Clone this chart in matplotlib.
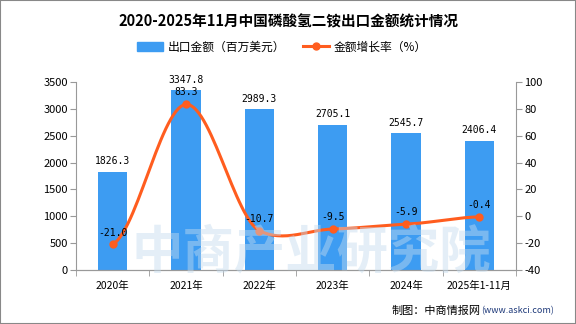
import numpy as np
import matplotlib
matplotlib.use('Agg')
import matplotlib.pyplot as plt
from matplotlib.patches import Rectangle
from matplotlib.lines import Line2D

plt.rcParams['font.family'] = ['Noto Sans CJK SC', 'DejaVu Sans']
plt.rcParams['axes.unicode_minus'] = False

years = ['2020年', '2021年', '2022年', '2023年', '2024年', '2025年1-11月']
amount = [1826.3, 3347.8, 2989.3, 2705.1, 2545.7, 2406.4]
growth = [-21.0, 83.3, -10.7, -9.5, -5.9, -0.4]

bar_color = '#3d9cf2'
line_color = '#ff5d1f'
axis_color = '#999999'

fig = plt.figure(figsize=(5.76, 3.24), dpi=100)
ax = fig.add_axes([0.132, 0.1667, 0.764, 0.5803])
ax2 = ax.twinx()

x = np.arange(len(years))
ax.bar(x, amount, width=0.4, color=bar_color, zorder=2)
ax.set_ylim(0, 3500)
ax.set_yticks(np.arange(0, 3501, 500))
ax.set_xlim(-0.5, len(years) - 0.5)
ax.set_xticks(x)
ax.set_xticklabels(years, fontsize=7.5)
ax.set_xticks(np.arange(-0.5, len(years)), minor=True)
ax.tick_params(axis='x', which='major', length=0, pad=8)
ax.tick_params(axis='x', which='minor', length=4, color=axis_color)
ax.tick_params(axis='y', labelsize=8, length=4, color=axis_color, pad=2)

for i, v in enumerate(amount):
    ax.annotate(f'{v:.1f}', (i, v), xytext=(0, 4), textcoords='offset points',
                ha='center', va='bottom', fontsize=7, family='DejaVu Sans Mono')

# smoothed line through the points (softened Catmull-Rom)
g = np.array(growth)
pts = np.concatenate([[g[0]], g, [g[-1]]])
xs, ys = [], []
t = np.linspace(0, 1, 30)
k = 0.6
for i in range(len(g) - 1):
    p0, p1, p2, p3 = pts[i], pts[i + 1], pts[i + 2], pts[i + 3]
    m1 = k * (p2 - p0) / 2
    m2 = k * (p3 - p1) / 2
    h00 = 2 * t**3 - 3 * t**2 + 1
    h10 = t**3 - 2 * t**2 + t
    h01 = -2 * t**3 + 3 * t**2
    h11 = t**3 - t**2
    xs.extend(i + t)
    ys.extend(h00 * p1 + h10 * m1 + h01 * p2 + h11 * m2)
ax2.plot(xs, ys, color=line_color, lw=2.2, zorder=3)
ax2.plot(x, growth, 'o', color=line_color, ms=5, zorder=4)
ax2.set_ylim(-40, 100)
ax2.set_yticks(np.arange(-40, 101, 20))
ax2.tick_params(axis='y', labelsize=8, length=4, color=axis_color, pad=2)

for i, v in enumerate(growth):
    ax2.annotate(f'{v:.1f}', (i, v), xytext=(0, 5), textcoords='offset points',
                 ha='center', va='bottom', fontsize=7, family='DejaVu Sans Mono')

for a in (ax, ax2):
    a.spines['top'].set_visible(False)
    a.spines['left'].set_color(axis_color)
    a.spines['right'].set_color(axis_color)
    a.spines['bottom'].set_color(axis_color)
ax2.spines['left'].set_visible(False)
ax.spines['right'].set_visible(False)

# watermark
fig.text(0.54, 0.222, '中商产业研究院', fontsize=37, color='#c4dbee', alpha=0.45,
         ha='center', va='center', fontweight='bold', zorder=10)

fig.text(0.5, 0.935, '2020-2025年11月中国磷酸氢二铵出口金额统计情况',
         ha='center', va='center', fontsize=10.5, fontweight='bold')

handles = [Rectangle((0, 0), 1, 1, color=bar_color),
           Line2D([0], [0], color=line_color, lw=2.2, marker='o', ms=5)]
fig.legend(handles, ['出口金额（百万美元）', '金额增长率（%）'], loc='center',
           bbox_to_anchor=(0.49, 0.855), ncol=2, frameon=False, fontsize=8.5,
           handlelength=2.2, handleheight=0.9, columnspacing=1.5, handletextpad=0.4)

fig.text(0.835, 0.04, '制图：中商情报网', ha='right', va='center', fontsize=8)
fig.text(0.835, 0.04, '(www.askci.com)', ha='left', va='center', fontsize=6.5,
         color='#1f3a7a')

fig.patches.append(Rectangle((0, 0), 1, 1, transform=fig.transFigure, fill=False,
                             edgecolor='#888888', lw=1.5))

fig.savefig('out.png', dpi=100)
